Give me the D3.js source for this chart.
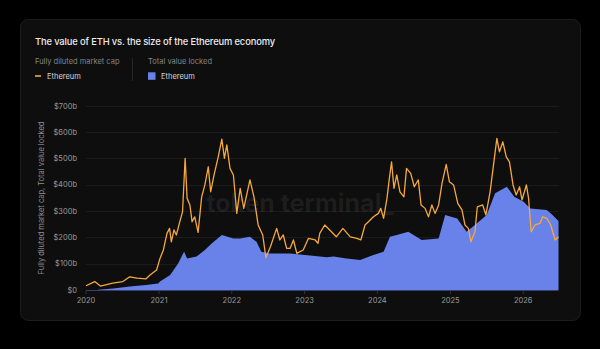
<!DOCTYPE html>
<html>
<head>
<meta charset="utf-8">
<script src="https://cdn.jsdelivr.net/npm/d3@7"></script>
<style>
  html, body { margin: 0; padding: 0; background: #000; }
  svg { display: block; font-family: Inter, "Noto Sans", sans-serif; }
</style>
</head>
<body>
<svg id="chart" width="600" height="349"></svg>
<script>
const svg = d3.select("#chart");

// Fully diluted market cap, $b
const fdvDates = [
    "2020-01-01", "2020-02-14", "2020-03-13", "2020-05-14", "2020-07-04", "2020-08-07", "2020-09-13",
    "2020-10-27", "2020-11-17", "2020-12-20", "2021-01-06", "2021-01-23", "2021-02-10", "2021-02-23",
    "2021-03-04", "2021-03-17", "2021-03-29", "2021-04-15", "2021-04-29", "2021-05-12", "2021-05-22",
    "2021-06-05", "2021-06-16", "2021-06-29", "2021-07-16", "2021-08-03", "2021-08-19", "2021-09-05",
    "2021-09-17", "2021-10-04", "2021-10-25", "2021-11-12", "2021-11-25", "2021-12-07", "2021-12-23",
    "2022-01-09", "2022-01-26", "2022-02-12", "2022-03-02", "2022-04-02", "2022-04-22", "2022-05-13",
    "2022-06-05", "2022-06-21", "2022-07-14", "2022-08-14", "2022-08-30", "2022-09-16", "2022-10-03",
    "2022-10-20", "2022-11-06", "2022-11-23", "2022-12-25", "2023-01-20", "2023-02-23", "2023-03-09",
    "2023-03-18", "2023-04-12", "2023-05-07", "2023-06-09", "2023-07-12", "2023-08-18", "2023-09-20",
    "2023-10-10", "2023-10-31", "2023-11-17", "2023-12-12", "2024-01-06", "2024-01-18", "2024-02-01",
    "2024-02-18", "2024-03-01", "2024-03-12", "2024-03-24", "2024-04-07", "2024-04-23", "2024-05-13",
    "2024-05-26", "2024-06-16", "2024-07-04", "2024-07-24", "2024-08-07", "2024-08-27", "2024-09-13",
    "2024-09-30", "2024-10-16", "2024-11-03", "2024-11-20", "2024-12-11", "2024-12-27", "2025-01-17",
    "2025-02-07", "2025-02-28", "2025-03-15", "2025-04-01", "2025-04-14", "2025-05-04", "2025-05-16",
    "2025-06-12", "2025-06-28", "2025-07-19", "2025-08-02", "2025-08-22", "2025-09-04", "2025-09-21",
    "2025-10-08", "2025-10-24", "2025-11-11", "2025-11-27", "2025-12-14", "2025-12-26", "2026-01-17",
    "2026-01-28", "2026-02-10", "2026-03-01", "2026-03-26", "2026-04-09", "2026-04-29", "2026-05-19",
    "2026-06-10", "2026-06-27"
];
const fdvValues = [
    16, 32, 15, 26, 32, 50, 45,
    42, 57, 76, 120, 152, 215, 234,
    183, 228, 209, 259, 297, 500, 348,
    323, 259, 278, 219, 354, 399, 468,
    373, 437, 506, 573, 500, 551, 462,
    437, 291, 386, 310, 418, 354, 247,
    209, 123, 165, 234, 190, 209, 158,
    158, 190, 139, 152, 196, 190, 177,
    215, 247, 228, 202, 234, 202, 196,
    190, 247, 259, 278, 291, 310, 272,
    348, 424, 487, 386, 437, 373, 354,
    462, 443, 392, 418, 323, 310, 278,
    323, 291, 323, 405, 477, 411, 399,
    329, 304, 247, 234, 183, 221, 316,
    323, 285, 373, 456, 576, 525, 563,
    506, 487, 399, 361, 392, 342, 399,
    348, 221, 247, 253, 278, 272, 247,
    190, 202
];

// Total value locked, $b
const tvlDates = [
    "2020-03-01", "2020-05-17", "2020-08-07", "2020-10-27", "2020-12-28", "2021-01-06", "2021-02-26",
    "2021-04-07", "2021-05-02", "2021-05-07", "2021-05-22", "2021-07-08", "2021-08-19", "2021-09-22",
    "2021-11-12", "2022-01-09", "2022-02-12", "2022-04-02", "2022-05-05", "2022-05-29", "2022-07-08",
    "2022-10-20", "2023-03-18", "2023-04-22", "2023-05-26", "2023-07-30", "2023-10-06", "2023-12-12",
    "2024-02-01", "2024-03-04", "2024-04-07", "2024-06-04", "2024-08-10", "2024-11-03", "2024-12-06",
    "2025-02-04", "2025-03-23", "2025-05-04", "2025-07-02", "2025-08-13", "2025-10-11", "2025-11-17",
    "2026-01-03", "2026-02-06", "2026-04-29", "2026-05-24", "2026-06-27"
];
const tvlValues = [
    1, 6, 13, 19, 25, 32, 57,
    101, 139, 145, 120, 127, 152, 177,
    209, 196, 196, 202, 183, 145, 139,
    139, 127, 124, 127, 120, 114, 133,
    145, 202, 209, 221, 190, 196, 285,
    272, 221, 247, 285, 367, 392, 354,
    335, 310, 304, 288, 262
];

const yTicks = [0, 100, 200, 300, 400, 500, 600, 700];
const xTickYears = [2020, 2021, 2022, 2023, 2024, 2025, 2026];

const ORANGE = "#f6a83c";
const BLUE = "#6882e9";

const parse = d3.timeParse("%Y-%m-%d");
const fdv = fdvDates.map((d, i) => ({ date: parse(d), value: fdvValues[i] }));
const tvl = tvlDates.map((d, i) => ({ date: parse(d), value: tvlValues[i] }));

// card
svg.append("rect")
    .attr("x", 20.5).attr("y", 19.5)
    .attr("width", 560).attr("height", 301)
    .attr("rx", 8)
    .attr("fill", "#0e0e0e")
    .attr("stroke", "#1d1d1d");

// title + legend
svg.append("text")
    .attr("x", 35).attr("y", 44.5)
    .attr("fill", "#ececec")
    .style("font-size", "9.4px")
    .style("font-weight", 500)
    .style("letter-spacing", "-0.15px")
    .text("The value of ETH vs. the size of the Ethereum economy");

const legend = svg.append("g").style("font-size", "7.5px");
legend.append("text").attr("x", 35).attr("y", 64).attr("fill", "#858585").text("Fully diluted market cap");
legend.append("line")
    .attr("x1", 35).attr("x2", 41).attr("y1", 76).attr("y2", 76)
    .attr("stroke", ORANGE).attr("stroke-width", 1.6);
legend.append("text").attr("x", 47).attr("y", 78.5).attr("fill", "#d8d8d8").text("Ethereum");
legend.append("line")
    .attr("x1", 132.5).attr("x2", 132.5).attr("y1", 58).attr("y2", 81)
    .attr("stroke", "#262626");
legend.append("text").attr("x", 148).attr("y", 64).attr("fill", "#858585").text("Total value locked");
legend.append("rect")
    .attr("x", 148).attr("y", 72.3).attr("width", 7.5).attr("height", 7.5)
    .attr("fill", BLUE);
legend.append("text").attr("x", 161).attr("y", 78.5).attr("fill", "#d8d8d8").text("Ethereum");

// scales
const x = d3.scaleTime()
    .domain([parse("2020-01-01"), parse("2026-06-27")])
    .range([86, 558.5]);
const y = d3.scaleLinear().domain([0, 700]).range([290, 105.7]);

// grid
svg.append("g").selectAll("line").data(yTicks.slice(1)).join("line")
    .attr("x1", 86).attr("x2", 558.5)
    .attr("y1", d => Math.round(y(d)) + 0.5).attr("y2", d => Math.round(y(d)) + 0.5)
    .attr("stroke", "#1b1b1b");

// y axis labels
const yFmt = d => d === 0 ? "$0" : `$${d}b`;
svg.append("g").selectAll("text").data(yTicks).join("text")
    .attr("x", 77).attr("y", d => y(d) + 2.8)
    .attr("text-anchor", "end")
    .attr("fill", "#9a9a9a")
    .style("font-size", "7.5px")
    .text(yFmt);

svg.append("text")
    .attr("transform", `translate(44,198) rotate(-90)`)
    .attr("text-anchor", "middle")
    .attr("fill", "#8e8e8e")
    .style("font-size", "7.5px")
    .text("Fully diluted market cap, Total value locked");

// watermark
svg.append("text")
    .attr("x", 300).attr("y", 212)
    .attr("text-anchor", "middle")
    .attr("fill", "#ffffff").attr("fill-opacity", 0.07)
    .style("font-size", "25px")
    .style("font-weight", 700)
    .text("token terminal_");

// TVL area
const area = d3.area()
    .x(d => x(d.date))
    .y0(y(0))
    .y1(d => y(d.value));
svg.append("path").datum(tvl)
    .attr("d", area)
    .attr("fill", BLUE);

// x axis line
svg.append("line")
    .attr("x1", 86).attr("x2", 558.5).attr("y1", 290.5).attr("y2", 290.5)
    .attr("stroke", "#3a3d6e");

const xTicks = xTickYears.map(yr => new Date(yr, 0, 1));
svg.append("g").selectAll("line").data(xTicks).join("line")
    .attr("x1", d => x(d)).attr("x2", d => x(d))
    .attr("y1", 291).attr("y2", 294)
    .attr("stroke", "#333");
svg.append("g").selectAll("text").data(xTicks).join("text")
    .attr("x", d => x(d)).attr("y", 303)
    .attr("text-anchor", "middle")
    .attr("fill", "#9a9a9a")
    .style("font-size", "7.5px")
    .text(d => d.getFullYear());

// FDV line
const line = d3.line()
    .x(d => x(d.date))
    .y(d => y(d.value));
svg.append("path").datum(fdv)
    .attr("d", line)
    .attr("fill", "none")
    .attr("stroke", ORANGE)
    .attr("stroke-width", 1.3)
    .attr("stroke-linejoin", "round");
</script>
</body>
</html>
